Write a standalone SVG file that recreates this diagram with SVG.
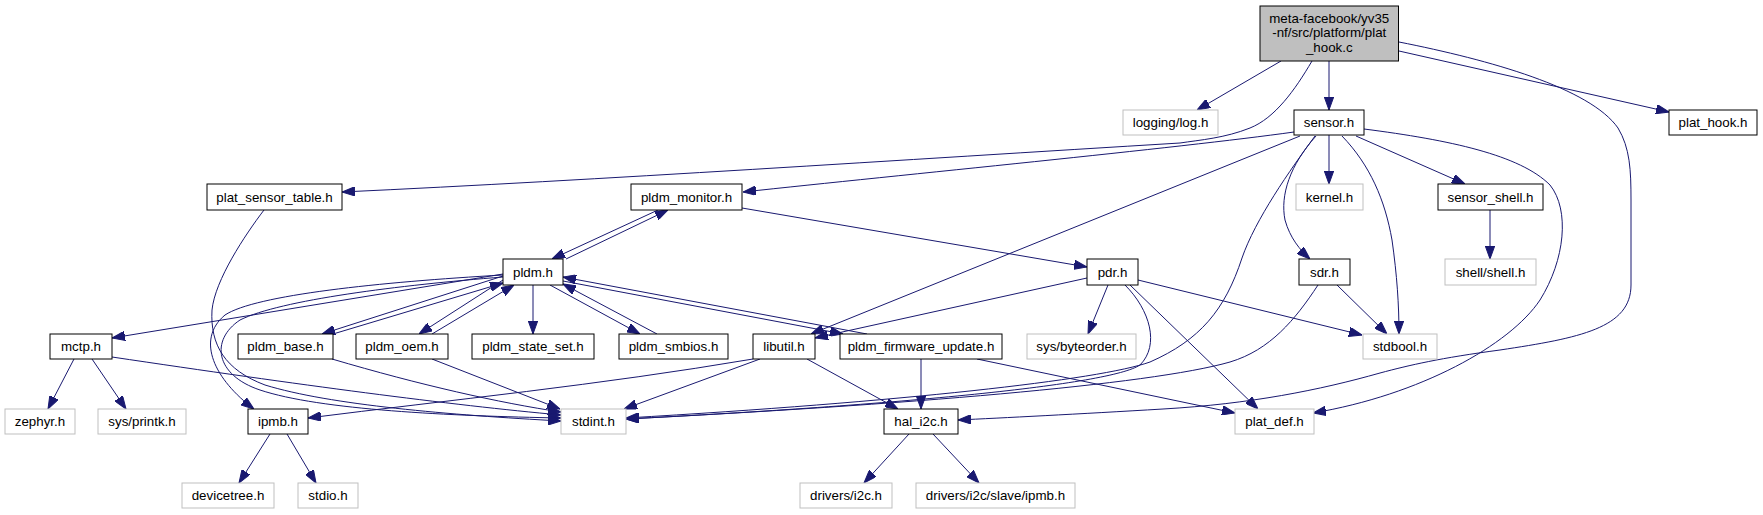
<svg xmlns="http://www.w3.org/2000/svg" width="1763" height="515" viewBox="0 0 1763 515">
<style>
  .n rect { fill: #ffffff; stroke: #000000; stroke-width: 1; }
  .g rect { fill: #ffffff; stroke: #bfbfbf; stroke-width: 1; }
  .m rect { fill: #bfbfbf; stroke: #000000; stroke-width: 1; }
  text { font-family: "Liberation Sans", Arial, sans-serif; font-size: 13.33px; fill: #000000; text-anchor: middle; }
  .e path { fill: none; stroke: #191970; stroke-width: 1; marker-end: url(#ah); }
</style>
<defs>
  <marker id="ah" viewBox="0 0 13 9.4" refX="13" refY="4.7" markerWidth="13" markerHeight="9.4" markerUnits="userSpaceOnUse" orient="auto">
    <path d="M0,0 L13,4.7 L0,9.4 z" fill="#191970" stroke="#191970" stroke-width="1"/>
  </marker>
</defs>
<rect width="1763" height="515" fill="#ffffff"/>
<g id="edges" class="e">
  <path d="M1281,61 L1197,110"/>
  <path d="M1329,61 L1329,110"/>
  <path d="M1312,61 C1295,90 1275,118 1250,128 C1225,138 1200,140 1180,143 C900,160 600,180 342,192"/>
  <path d="M1399,51 L1669,112"/>
  <path d="M1399,42 C1490,60 1590,88 1618,128 C1630,148 1631,170 1631,200 L1631,285 C1631,328 1580,338 1500,350 C1440,358 1410,365 1380,373 C1320,390 1250,404 1163,409 C1080,414 1000,418 958,420"/>
  <path d="M1294,132 C1180,148 900,175 743,192"/>
  <path d="M1300,136 L811,334"/>
  <path d="M1329,135 L1329,184"/>
  <path d="M1356,136 L1465,184"/>
  <path d="M1490,210 L1490,259"/>
  <path d="M1316,136 C1290,165 1280,195 1285,220 C1290,238 1300,250 1310,259"/>
  <path d="M1342,136 C1370,165 1385,200 1392,240 C1397,275 1399,305 1399,334"/>
  <path d="M1315,136 C1290,170 1255,220 1242,258 C1225,310 1200,340 1150,362 C1100,380 900,402 626,418"/>
  <path d="M1364,129 C1450,140 1520,155 1550,185 C1570,210 1565,260 1540,300 C1510,345 1420,395 1313,413"/>
  <path d="M742,208 L1087,267"/>
  <path d="M566,259 L668,210"/>
  <path d="M658,210 L552,259"/>
  <path d="M1087,278 L815,338"/>
  <path d="M1108,285 L1088,334"/>
  <path d="M1125,285 C1150,310 1160,345 1140,365 C1110,385 900,405 626,419"/>
  <path d="M1130,285 L1258,409"/>
  <path d="M1138,280 L1362,335"/>
  <path d="M1318,285 C1295,320 1270,350 1230,362 C1150,385 900,405 626,419"/>
  <path d="M1337,285 L1387,334"/>
  <path d="M503,274 L112,338"/>
  <path d="M503,276 L322,334"/>
  <path d="M333,334 L503,283"/>
  <path d="M503,280 L419,334"/>
  <path d="M432,334 L514,285"/>
  <path d="M533,285 L533,334"/>
  <path d="M550,285 L640,334"/>
  <path d="M657,334 L563,284"/>
  <path d="M563,281 L843,334"/>
  <path d="M867,334 L563,277"/>
  <path d="M503,275 C380,282 255,295 225,315 C195,340 215,380 254,409"/>
  <path d="M503,277 C400,285 280,300 240,320 C210,340 215,375 260,390 C320,410 450,416 561,418"/>
  <path d="M264,210 C245,235 215,280 212,310 C210,345 225,370 265,385 C330,405 450,415 561,421"/>
  <path d="M112,357 C300,385 450,405 561,415"/>
  <path d="M332,359 C420,385 500,403 561,412"/>
  <path d="M432,359 L560,409"/>
  <path d="M74,359 L48,409"/>
  <path d="M92,359 L126,409"/>
  <path d="M753,359 C600,385 450,400 308,418"/>
  <path d="M760,359 L624,409"/>
  <path d="M807,359 L898,409"/>
  <path d="M921,359 L921,409"/>
  <path d="M977,359 L1235,413"/>
  <path d="M270,434 L239,483"/>
  <path d="M287,434 L316,483"/>
  <path d="M909,434 L864,483"/>
  <path d="M933,434 L979,483"/>
</g>
<g id="node_main" class="m"><rect x="1260" y="6" width="138.5" height="55"/><text x="1329.25" y="22.5">meta-facebook/yv35</text><text x="1329.25" y="37.2">-nf/src/platform/plat</text><text x="1329.25" y="51.9">_hook.c</text></g>
<g id="node_logging_log" class="g"><rect x="1123" y="110" width="95" height="25"/><text x="1170.5" y="127">logging/log.h</text></g>
<g id="node_sensor" class="n"><rect x="1294" y="110" width="70" height="25"/><text x="1329" y="127">sensor.h</text></g>
<g id="node_plat_hook" class="n"><rect x="1669" y="110" width="88" height="25"/><text x="1713" y="127">plat_hook.h</text></g>
<g id="node_plat_sensor_table" class="n"><rect x="207" y="184" width="135" height="26"/><text x="274.5" y="201.5">plat_sensor_table.h</text></g>
<g id="node_pldm_monitor" class="n"><rect x="631" y="184" width="111" height="26"/><text x="686.5" y="201.5">pldm_monitor.h</text></g>
<g id="node_kernel" class="g"><rect x="1296" y="184" width="67" height="26"/><text x="1329.5" y="201.5">kernel.h</text></g>
<g id="node_sensor_shell" class="n"><rect x="1438" y="184" width="105" height="26"/><text x="1490.5" y="201.5">sensor_shell.h</text></g>
<g id="node_pldm" class="n"><rect x="503" y="259" width="60" height="26"/><text x="533" y="276.5">pldm.h</text></g>
<g id="node_pdr" class="n"><rect x="1087" y="259" width="51" height="26"/><text x="1112.5" y="276.5">pdr.h</text></g>
<g id="node_sdr" class="n"><rect x="1299" y="259" width="51" height="26"/><text x="1324.5" y="276.5">sdr.h</text></g>
<g id="node_shell_shell" class="g"><rect x="1445" y="259" width="91" height="26"/><text x="1490.5" y="276.5">shell/shell.h</text></g>
<g id="node_mctp" class="n"><rect x="50" y="334" width="62" height="25"/><text x="81" y="351">mctp.h</text></g>
<g id="node_pldm_base" class="n"><rect x="238" y="334" width="95" height="25"/><text x="285.5" y="351">pldm_base.h</text></g>
<g id="node_pldm_oem" class="n"><rect x="356" y="334" width="92" height="25"/><text x="402" y="351">pldm_oem.h</text></g>
<g id="node_pldm_state_set" class="n"><rect x="472" y="334" width="122" height="25"/><text x="533" y="351">pldm_state_set.h</text></g>
<g id="node_pldm_smbios" class="n"><rect x="619" y="334" width="109" height="25"/><text x="673.5" y="351">pldm_smbios.h</text></g>
<g id="node_libutil" class="n"><rect x="753" y="334" width="62" height="25"/><text x="784" y="351">libutil.h</text></g>
<g id="node_pldm_firmware_update" class="n"><rect x="840" y="334" width="162" height="25"/><text x="921" y="351">pldm_firmware_update.h</text></g>
<g id="node_sys_byteorder" class="g"><rect x="1027" y="334" width="109" height="25"/><text x="1081.5" y="351">sys/byteorder.h</text></g>
<g id="node_stdbool" class="g"><rect x="1363" y="334" width="74" height="25"/><text x="1400" y="351">stdbool.h</text></g>
<g id="node_zephyr" class="g"><rect x="5" y="409" width="70" height="25"/><text x="40" y="426">zephyr.h</text></g>
<g id="node_sys_printk" class="g"><rect x="98" y="409" width="88" height="25"/><text x="142" y="426">sys/printk.h</text></g>
<g id="node_ipmb" class="n"><rect x="248" y="409" width="60" height="25"/><text x="278" y="426">ipmb.h</text></g>
<g id="node_stdint" class="g"><rect x="561" y="409" width="65" height="25"/><text x="593.5" y="426">stdint.h</text></g>
<g id="node_hal_i2c" class="n"><rect x="884" y="409" width="74" height="25"/><text x="921" y="426">hal_i2c.h</text></g>
<g id="node_plat_def" class="g"><rect x="1235" y="409" width="79" height="25"/><text x="1274.5" y="426">plat_def.h</text></g>
<g id="node_devicetree" class="g"><rect x="182" y="483" width="92" height="25"/><text x="228" y="500">devicetree.h</text></g>
<g id="node_stdio" class="g"><rect x="298" y="483" width="60" height="25"/><text x="328" y="500">stdio.h</text></g>
<g id="node_drivers_i2c" class="g"><rect x="800" y="483" width="92" height="25"/><text x="846" y="500">drivers/i2c.h</text></g>
<g id="node_drivers_i2c_slave_ipmb" class="g"><rect x="916" y="483" width="159" height="25"/><text x="995.5" y="500">drivers/i2c/slave/ipmb.h</text></g>
</svg>
